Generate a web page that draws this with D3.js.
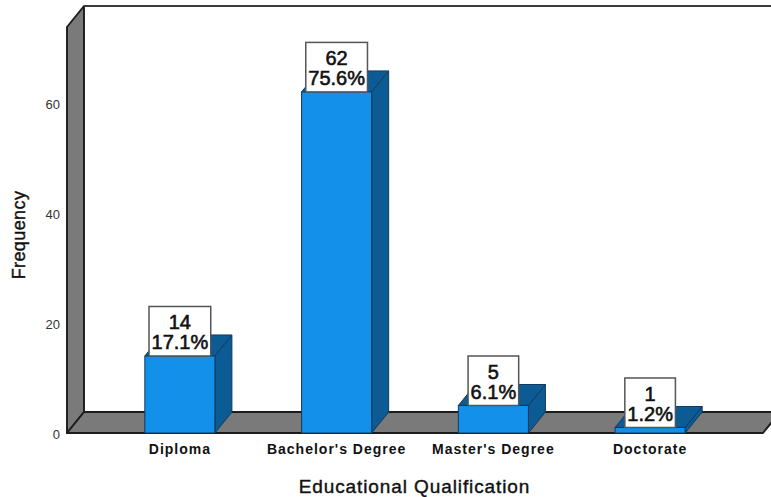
<!DOCTYPE html>
<html>
<head>
<meta charset="utf-8">
<script src="https://cdn.jsdelivr.net/npm/d3@7"></script>
<style>
  body { margin: 0; background: #fff; }
  svg { display: block; }
  text { font-family: "Liberation Sans", Arial, sans-serif; fill: #111; }
</style>
</head>
<body>
<script>
const categories = ["Diploma", "Bachelor's Degree", "Master's Degree", "Doctorate"];
const counts = [14, 62, 5, 1];
const percents = ["17.1%", "75.6%", "6.1%", "1.2%"];
const yTicks = [0, 20, 40, 60];

const width = 771,
    height = 497,
    depthX = 17,
    depthY = 21,
    floorY = 433,
    wallLeft = 67,
    wallRight = 763;

const lineColor = "#1c1c1c",
    wallColor = "#7a7a7a",
    barFront = "#1390e9",
    barSide = "#0c5b95";

const svg = d3.select("body").append("svg")
    .attr("width", width)
    .attr("height", height);

const x = d3.scaleBand()
    .domain(categories)
    .range([101.5, 728.5])
    .paddingInner(0.553)
    .paddingOuter(0.2765);

const y = d3.scaleLinear()
    .domain([0, 73.8])
    .range([floorY, 27]);

const poly = pts => pts.map(p => p.join(",")).join(" ");
const topY = y.range()[1];

/* ------- WALLS -------*/

const walls = svg.append("g")
    .attr("stroke", lineColor)
    .attr("stroke-width", 1.9)
    .attr("stroke-linejoin", "round");

// left wall
walls.append("polygon")
    .attr("fill", wallColor)
    .attr("points", poly([
        [wallLeft, floorY], [wallLeft, topY],
        [wallLeft + depthX, topY - depthY], [wallLeft + depthX, floorY - depthY]
    ]));

// floor, runs off to the right
walls.append("polygon")
    .attr("fill", wallColor)
    .attr("points", poly([
        [wallLeft, floorY], [wallLeft + depthX, floorY - depthY],
        [wallRight + depthX, floorY - depthY], [wallRight, floorY]
    ]));

// top edge of the back wall
walls.append("line")
    .attr("x1", wallLeft + depthX)
    .attr("x2", width)
    .attr("y1", topY - depthY)
    .attr("y2", topY - depthY)
    .attr("stroke", "#3a3a3a");

/* ------- BARS -------*/

const data = categories.map((name, i) => ({ name, count: counts[i], pct: percents[i] }));

const bars = svg.append("g").selectAll("g")
    .data(data)
    .join("g")
    .attr("stroke", "#123a5c")
    .attr("stroke-width", 1)
    .attr("stroke-linejoin", "round");

// right side
bars.append("polygon")
    .attr("fill", barSide)
    .attr("points", d => {
        const x1 = x(d.name) + x.bandwidth(), t = y(d.count);
        return poly([
            [x1, t], [x1 + depthX, t - depthY],
            [x1 + depthX, floorY - depthY], [x1, floorY]
        ]);
    });

// top face
bars.append("polygon")
    .attr("fill", barSide)
    .attr("points", d => {
        const x0 = x(d.name), x1 = x0 + x.bandwidth(), t = y(d.count);
        return poly([
            [x0, t], [x0 + depthX, t - depthY], [x1 + depthX, t - depthY], [x1, t]
        ]);
    });

bars.append("rect")
    .attr("x", d => x(d.name))
    .attr("y", d => y(d.count))
    .attr("width", x.bandwidth())
    .attr("height", d => floorY - y(d.count))
    .attr("fill", barFront);

/* ------- VALUE LABELS -------*/

const labels = svg.append("g").selectAll("g")
    .data(data)
    .join("g")
    .attr("transform", d => `translate(${x(d.name) + x.bandwidth() / 2}, ${y(d.count) - 49.5})`);

labels.append("rect")
    .attr("y", 0)
    .attr("height", 49.5)
    .attr("fill", "#fff")
    .attr("stroke", "#555")
    .attr("stroke-width", 1.5);

const labelText = labels.append("text")
    .attr("text-anchor", "middle")
    .style("font-size", "20px")
    .style("stroke", "#111")
    .style("stroke-width", "0.6px");

labelText.append("tspan").attr("x", 0).attr("y", 23).text(d => d.count);
labelText.append("tspan").attr("x", 0).attr("y", 43).text(d => d.pct);

// box width follows the longer line of its label
labels.each(function () {
    const g = d3.select(this);
    const w = g.select("tspan:last-child").node().getComputedTextLength() + 5;
    g.select("rect").attr("x", -w / 2).attr("width", w);
});

/* ------- AXES -------*/

const yAxis = svg.append("g")
    .attr("transform", `translate(${wallLeft}, 1.5)`)
    .call(d3.axisLeft(y).tickValues(yTicks).tickSize(0).tickPadding(7));
yAxis.select(".domain").remove();
yAxis.selectAll("text")
    .style("font-size", "13px")
    .style("fill", "#333");

const xAxis = svg.append("g")
    .attr("transform", `translate(0, ${floorY})`)
    .call(d3.axisBottom(x).tickSize(0).tickPadding(11));
xAxis.select(".domain").remove();
xAxis.selectAll("text")
    .style("font-size", "14px")
    .style("font-weight", "bold")
    .style("letter-spacing", "1px");

svg.append("text")
    .attr("x", 414.5)
    .attr("y", 493)
    .attr("text-anchor", "middle")
    .style("font-size", "19px")
    .style("letter-spacing", "0.9px")
    .style("stroke", "#111")
    .style("stroke-width", "0.4px")
    .text("Educational Qualification");

svg.append("text")
    .attr("transform", "translate(25, 235) rotate(-90)")
    .attr("text-anchor", "middle")
    .style("font-size", "18px")
    .style("letter-spacing", "0.4px")
    .style("stroke", "#111")
    .style("stroke-width", "0.4px")
    .text("Frequency");
</script>
</body>
</html>
